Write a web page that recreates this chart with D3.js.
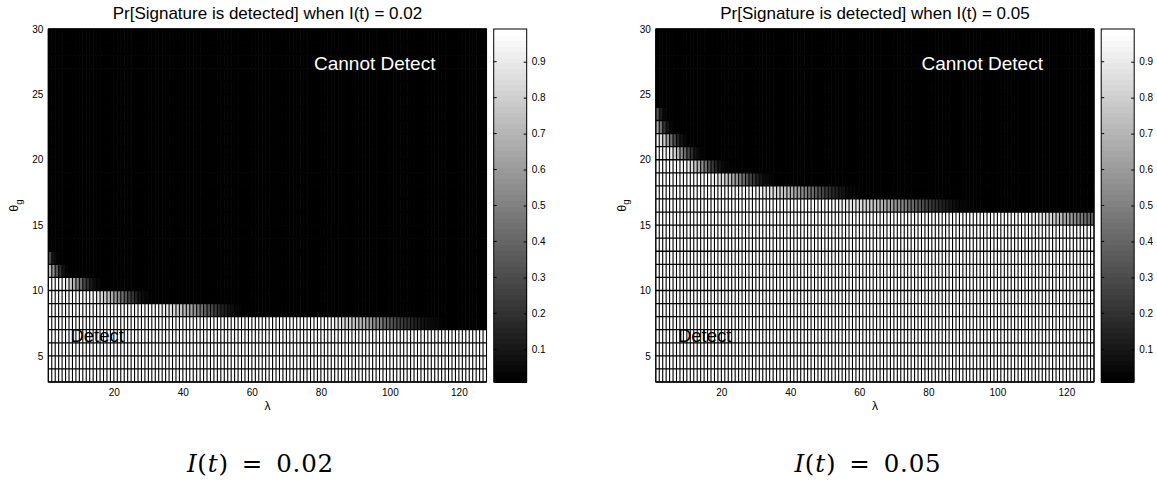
<!DOCTYPE html>
<html>
<head>
<meta charset="utf-8">
<script src="https://cdn.jsdelivr.net/npm/d3@7"></script>
<style>
  body { margin: 0; background: #fff; }
  svg { display: block; }
  text { font-family: "Liberation Sans", Arial, Helvetica, sans-serif; fill: #000; }
</style>
</head>
<body>
<svg id="fig" width="1157" height="481"></svg>
<script>
// pcolor grid: λ edges 1..128 (127 columns), θ_g edges 3..30 (27 rows)
const lambdaEdges = d3.range(1, 129);
const thetaEdges = d3.range(3, 31);
const thetaRows = d3.range(3, 30);

const xTickValues = [20, 40, 60, 80, 100, 120];
const yTickValues = [5, 10, 15, 20, 25, 30];
const cbarTickValues = [0.1, 0.2, 0.3, 0.4, 0.5, 0.6, 0.7, 0.8, 0.9];

// probability levels outside the fading band of each row
const DETECTED = 0.99;
const MISSED = 0.01;
const colorLimits = [0.009, 0.991];

// I(t) = 0.02 — one entry per θ_g row (3..29): first λ of the fading band
const fadeStart02 = [128, 128, 128, 128, 83, 33, 14, 5, 1, 1,
  1, 1, 1, 1, 1, 1, 1, 1, 1, 1, 1, 1, 1, 1, 1, 1, 1];
// probabilities along the fading band, from fadeStart onwards
const fadeValues02 = [
  [], [], [], [],
  [0.95, 0.92, 0.88, 0.85, 0.82, 0.8, 0.78, 0.76, 0.73, 0.69, 0.65, 0.6, 0.56, 0.52, 0.47, 0.42, 0.38, 0.35, 0.31, 0.28, 0.25, 0.22, 0.2, 0.17, 0.14, 0.12, 0.1, 0.08, 0.06, 0.05, 0.04, 0.03, 0.02],
  [0.95, 0.92, 0.9, 0.87, 0.84, 0.8, 0.77, 0.73, 0.68, 0.63, 0.57, 0.51, 0.45, 0.4, 0.34, 0.29, 0.24, 0.19, 0.15, 0.12, 0.09, 0.06, 0.04, 0.03, 0.02],
  [0.95, 0.9, 0.85, 0.8, 0.74, 0.67, 0.6, 0.52, 0.44, 0.36, 0.28, 0.21, 0.15, 0.1, 0.06, 0.04, 0.02],
  [0.95, 0.9, 0.8, 0.68, 0.55, 0.42, 0.3, 0.2, 0.12, 0.07, 0.04, 0.02],
  [0.72, 0.55, 0.35, 0.18, 0.08, 0.03],
  [0.3, 0.1, 0.03],
  [], [], [], [], [], [], [], [], [], [], [], [], [], [], [], [], []
];

// I(t) = 0.05
const fadeStart05 = [128, 128, 128, 128, 128, 128, 128, 128, 128, 128, 128, 128,
  108, 52, 30, 17, 9, 4, 1, 1, 1, 1, 1, 1, 1, 1, 1];
const fadeValues05 = [
  [], [], [], [], [], [], [], [], [], [], [], [],
  [0.97, 0.96, 0.95, 0.93, 0.91, 0.89, 0.86, 0.83, 0.8, 0.76, 0.72, 0.68, 0.64, 0.6, 0.56, 0.52, 0.48, 0.45, 0.42, 0.39],
  [0.96, 0.95, 0.94, 0.93, 0.92, 0.9, 0.89, 0.87, 0.85, 0.83, 0.81, 0.79, 0.77, 0.74, 0.71, 0.68, 0.65, 0.62, 0.59, 0.56, 0.52, 0.49, 0.45, 0.42, 0.38, 0.35, 0.31, 0.28, 0.25, 0.22, 0.19, 0.17, 0.14, 0.12, 0.1, 0.08, 0.07, 0.05, 0.04, 0.03, 0.03, 0.02],
  [0.96, 0.94, 0.92, 0.9, 0.88, 0.85, 0.82, 0.79, 0.76, 0.72, 0.68, 0.64, 0.6, 0.55, 0.5, 0.46, 0.41, 0.37, 0.32, 0.28, 0.24, 0.2, 0.17, 0.14, 0.11, 0.09, 0.07, 0.05, 0.04, 0.03, 0.02],
  [0.95, 0.92, 0.88, 0.84, 0.79, 0.73, 0.66, 0.59, 0.51, 0.43, 0.35, 0.28, 0.21, 0.15, 0.1, 0.07, 0.04, 0.03, 0.02],
  [0.95, 0.91, 0.85, 0.77, 0.67, 0.56, 0.44, 0.33, 0.23, 0.15, 0.09, 0.05, 0.03, 0.02],
  [0.95, 0.9, 0.82, 0.7, 0.56, 0.42, 0.29, 0.18, 0.1, 0.05, 0.03, 0.02],
  [0.93, 0.88, 0.78, 0.62, 0.45, 0.3, 0.17, 0.09, 0.04, 0.02],
  [0.65, 0.45, 0.22, 0.09, 0.04, 0.02],
  [0.35, 0.12, 0.04],
  [], [], [], [], [], []
];

const panels = [
  { id: "0.02", fadeStart: fadeStart02, fadeValues: fadeValues02, left: 48.3, caption: "0.02" },
  { id: "0.05", fadeStart: fadeStart05, fadeValues: fadeValues05, left: 655.8, caption: "0.05" }
];

const svg = d3.select("#fig");
const plotW = 438.2, plotTop = 29, plotBottom = 382;
const cbarGap = 7.2, cbarW = 33;

// 64-level gray colormap over the colour limits
const levelOf = d3.scaleLinear().domain(colorLimits).range([0, 64]).clamp(true);
function grayColor(v) {
  const lvl = Math.min(63, Math.floor(levelOf(v)));
  const g = Math.round(255 * lvl / 63);
  return d3.rgb(g, g, g).formatHex();
}

function cellValue(panel, rowIdx, lambda) {
  const start = panel.fadeStart[rowIdx];
  if (lambda < start) return DETECTED;
  const k = lambda - start;
  const vals = panel.fadeValues[rowIdx];
  return k < vals.length ? vals[k] : MISSED;
}

panels.forEach(panel => {
  const x = d3.scaleLinear().domain([1, 128]).range([panel.left, panel.left + plotW]);
  const y = d3.scaleLinear().domain([3, 30]).range([plotBottom, plotTop]);
  const g = svg.append("g");

  // cells
  const cells = [];
  thetaRows.forEach((th, ri) => {
    lambdaEdges.slice(0, -1).forEach(lam => {
      cells.push({ th, lam, v: cellValue(panel, ri, lam) });
    });
  });
  g.append("g").selectAll("rect").data(cells).join("rect")
    .attr("x", d => x(d.lam))
    .attr("y", d => y(d.th + 1))
    .attr("width", d => x(d.lam + 1) - x(d.lam) + 0.05)
    .attr("height", d => y(d.th) - y(d.th + 1) + 0.05)
    .attr("fill", d => grayColor(d.v));

  // cell edges
  const edges = g.append("g").attr("stroke", "#000");
  edges.selectAll("line.v").data(lambdaEdges).join("line").attr("class", "v")
    .attr("stroke-width", 1.1)
    .attr("x1", d => x(d)).attr("x2", d => x(d))
    .attr("y1", plotTop).attr("y2", plotBottom);
  edges.selectAll("line.h").data(thetaEdges).join("line").attr("class", "h")
    .attr("stroke-width", 1.3)
    .attr("x1", panel.left).attr("x2", panel.left + plotW)
    .attr("y1", d => y(d)).attr("y2", d => y(d));

  // axes frame
  g.append("rect").attr("x", panel.left).attr("y", plotTop)
    .attr("width", plotW).attr("height", plotBottom - plotTop)
    .attr("fill", "none").attr("stroke", "#000").attr("stroke-width", 1);

  // tick labels
  const xAxis = g.append("g").attr("transform", `translate(0,${plotBottom})`)
    .call(d3.axisBottom(x).tickValues(xTickValues).tickSize(0).tickPadding(7));
  const yAxis = g.append("g").attr("transform", `translate(${panel.left},0)`)
    .call(d3.axisLeft(y).tickValues(yTickValues).tickSize(0).tickPadding(5));
  [xAxis, yAxis].forEach(a => {
    a.select(".domain").remove();
    a.selectAll("text").attr("font-size", 10).attr("font-family", null).attr("fill", "#000");
  });

  // axis labels
  g.append("text").attr("x", x(64.5)).attr("y", 409.5)
    .attr("text-anchor", "middle").attr("font-size", 12).text("λ");
  const yl = g.append("text")
    .attr("transform", `translate(${panel.left - 30},${y(16.5)}) rotate(-90)`)
    .attr("text-anchor", "middle").attr("font-size", 12.5);
  yl.append("tspan").text("θ");
  yl.append("tspan").attr("font-size", 9.5).attr("dy", 3.5).text("g");

  // title
  g.append("text").attr("x", panel.left + plotW / 2).attr("y", 19)
    .attr("text-anchor", "middle").attr("font-size", 17)
    .text(`Pr[Signature is detected] when I(t) = ${panel.id}`);

  // region annotations
  g.append("text").attr("x", x(78)).attr("y", y(26.9))
    .attr("font-size", 19).style("fill", "#fff").text("Cannot Detect");
  g.append("text").attr("x", x(7.4)).attr("y", y(6.05))
    .attr("font-size", 18.5).text("Detect");

  // colorbar
  const cx = panel.left + plotW + cbarGap;
  const cy = d3.scaleLinear().domain(colorLimits).range([plotBottom, plotTop]);
  const levels = d3.range(64);
  const lvlVal = d3.scaleLinear().domain([0, 64]).range(colorLimits);
  g.append("g").attr("shape-rendering", "crispEdges")
    .selectAll("rect").data(levels).join("rect")
    .attr("x", cx).attr("width", cbarW)
    .attr("y", d => cy(lvlVal(d + 1)))
    .attr("height", d => cy(lvlVal(d)) - cy(lvlVal(d + 1)) + 1)
    .attr("fill", d => grayColor(lvlVal(d + 0.5)));
  g.append("rect").attr("x", cx).attr("y", plotTop).attr("width", cbarW).attr("height", plotBottom - plotTop)
    .attr("fill", "none").attr("stroke", "#000").attr("stroke-width", 1);
  const cAxis = g.append("g").attr("transform", `translate(${cx + cbarW},0)`)
    .call(d3.axisRight(cy).tickValues(cbarTickValues).tickFormat(d3.format(".1f"))
      .tickSizeInner(-3).tickSizeOuter(0).tickPadding(5));
  cAxis.select(".domain").remove();
  cAxis.selectAll("text").attr("font-size", 10).attr("font-family", null).attr("fill", "#000");
  cAxis.selectAll("line").attr("stroke", "#000");
  g.append("g").selectAll("line").data(cbarTickValues).join("line")
    .attr("x1", cx).attr("x2", cx + 3)
    .attr("y1", d => cy(d)).attr("y2", d => cy(d))
    .attr("stroke", "#000");

  // caption
  const cap = g.append("text").attr("x", panel.left + plotW / 2 - 7).attr("y", 472)
    .attr("text-anchor", "middle").attr("font-size", 24.5)
    .attr("letter-spacing", 0.8)
    .style("font-family", "'DejaVu Serif', serif");
  cap.append("tspan").attr("font-style", "italic").text("I");
  cap.append("tspan").text("(");
  cap.append("tspan").attr("font-style", "italic").text("t");
  cap.append("tspan").text(")\u2002=\u2002" + panel.caption);
});
</script>
</body>
</html>
